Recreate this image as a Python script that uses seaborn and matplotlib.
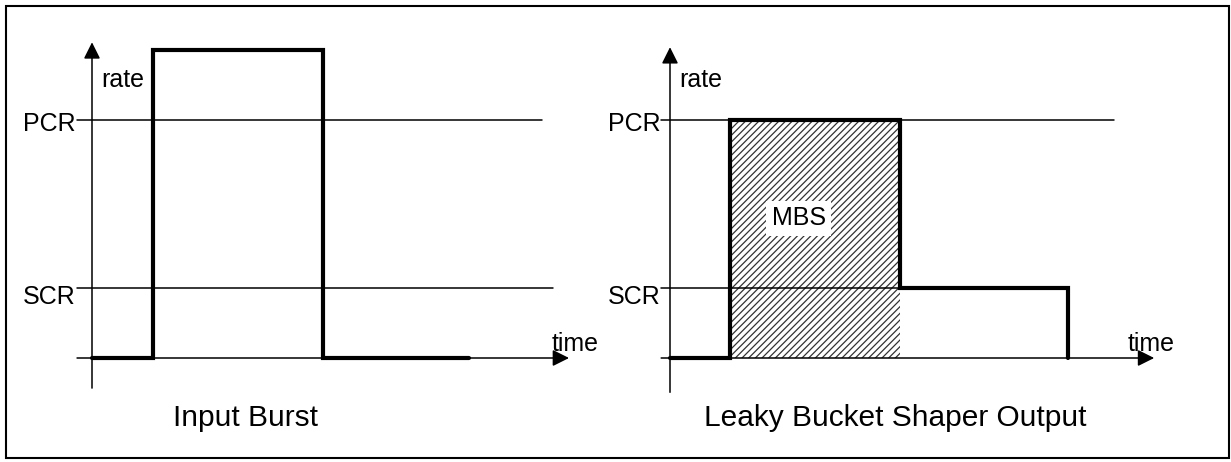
import matplotlib
matplotlib.use("Agg")
import matplotlib.pyplot as plt
import seaborn as sns
import pandas as pd

# rate levels (SCR = 1 unit)
PCR = 3.4
SCR = 1.0
PEAK = 4.4

# input burst: step points (time, rate)
burst_time = [0.0, 1.8, 6.8, 11.1]
burst_rate = [0.0, PEAK, 0.0, 0.0]

# shaper output: step points (time, rate)
shaped_time = [0.0, 1.75, 6.75, 11.7]
shaped_rate = [0.0, PCR, SCR, 0.0]

panel_titles = ["Input Burst", "Leaky Bucket Shaper Output"]
level_labels = ["PCR", "SCR"]

sns.set_style("white")
plt.rcParams['font.family'] = ['Liberation Sans', 'DejaVu Sans']
plt.rcParams['text.color'] = 'black'
plt.rcParams['hatch.linewidth'] = 0.9
plt.rcParams['hatch.color'] = '#333333'

W, H = 1231, 462
fig = plt.figure(figsize=(W / 100, H / 100), dpi=100)

# pixel layout: 34 px per time unit, 70 px per rate unit
PX_T, PX_R = 34.0, 70.0

def make_axes(x0, y0, left_px, right_px, top_px=20, bottom_px=440):
    ax = fig.add_axes([left_px / W, (H - bottom_px) / H,
                       (right_px - left_px) / W, (bottom_px - top_px) / H])
    ax.set_xlim((left_px - x0) / PX_T, (right_px - x0) / PX_T)
    ax.set_ylim((y0 - bottom_px) / PX_R, (y0 - top_px) / PX_R)
    ax.axis('off')
    return ax

ax1 = make_axes(92, 358, 20, 610)
ax2 = make_axes(670, 358, 600, 1190)

panels = [
    dict(ax=ax1, t=burst_time, r=burst_rate, xs=-0.44, yb=-0.43, ytip=4.51,
         xtip=14.03, pcr_end=13.24, scr_end=13.56, title_x=4.5, time_x=14.2),
    dict(ax=ax2, t=shaped_time, r=shaped_rate, xs=-0.26, yb=-0.49, ytip=4.44,
         xtip=14.24, pcr_end=13.06, scr_end=11.7, title_x=6.62, time_x=14.15),
]

arrow = dict(arrowstyle='-|>', color='black', lw=1.1, mutation_scale=25,
             shrinkA=0, shrinkB=0)

for i, p in enumerate(panels):
    ax = p['ax']
    # axes with arrows
    ax.annotate('', xy=(0, p['ytip']), xytext=(0, p['yb']), arrowprops=arrow)
    ax.annotate('', xy=(p['xtip'], 0), xytext=(p['xs'], 0), arrowprops=arrow)
    # PCR / SCR reference lines
    ax.plot([p['xs'], p['pcr_end']], [PCR, PCR], color='black', lw=1.1)
    ax.plot([p['xs'], p['scr_end']], [SCR, SCR], color='black', lw=1.1)
    ax.text(p['xs'] - 0.03, PCR - 0.06, level_labels[0], ha='right', va='center', fontsize=18)
    ax.text(p['xs'] - 0.03, SCR - 0.13, level_labels[1], ha='right', va='center', fontsize=18)
    ax.text(0.27, 3.97, 'rate', ha='left', va='center', fontsize=18)
    ax.text(p['time_x'], 0.2, 'time', ha='center', va='center', fontsize=18)
    ax.text(p['title_x'], -0.97, panel_titles[i], ha='center', va='baseline', fontsize=21.5)

    df = pd.DataFrame({'time': p['t'], 'rate': p['r']})
    sns.lineplot(data=df, x='time', y='rate', ax=ax, color='black', lw=3,
                 drawstyle='steps-post', solid_joinstyle='miter', zorder=5)
    ax.axis('off')

# MBS area: output at PCR between rise and drop
ax2.fill_between([shaped_time[1], shaped_time[2]], 0, PCR, facecolor='none',
                 edgecolor='#333333', hatch='/////', linewidth=0, zorder=1)
ax2.text(3.79, 2.0, 'MBS', ha='center', va='center', fontsize=18, zorder=6,
         bbox=dict(facecolor='white', edgecolor='none', pad=4))

# outer frame
fig.add_artist(plt.Rectangle((6 / W, 4 / H), (1229 - 6) / W, (458 - 6) / H,
                             transform=fig.transFigure, fill=False,
                             edgecolor='black', lw=1.5))

fig.savefig('out.png', dpi=100, facecolor='white')
